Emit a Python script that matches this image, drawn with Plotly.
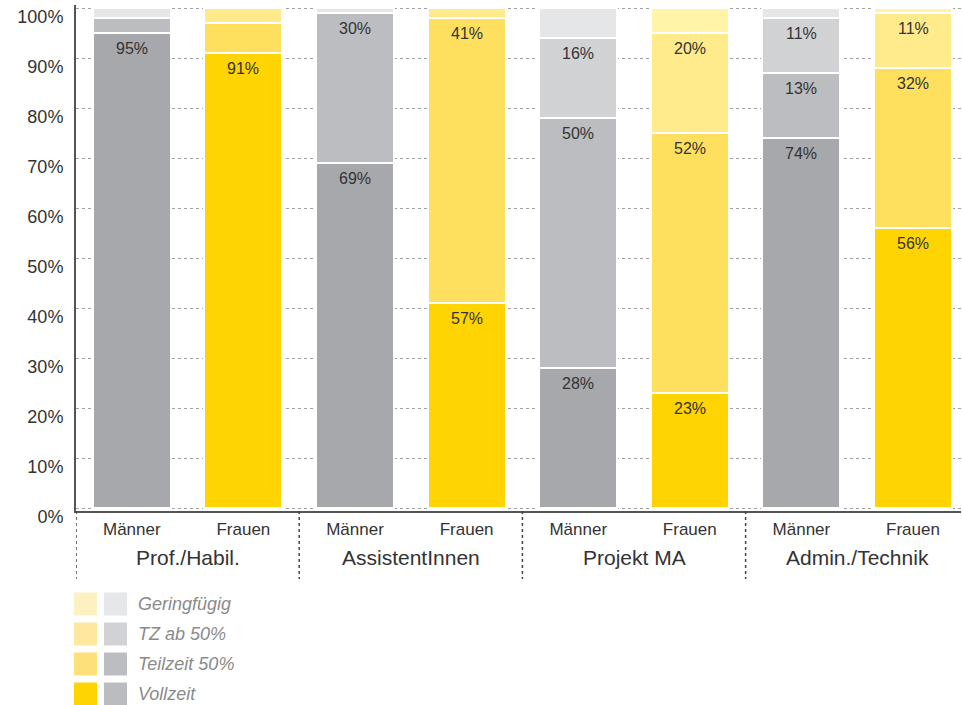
import plotly.graph_objects as go

# ---- data ----
groups = ["Prof./Habil.", "AssistentInnen", "Projekt MA", "Admin./Technik"]
sexes = ["Männer", "Frauen", "Männer", "Frauen", "Männer", "Frauen", "Männer", "Frauen"]

vollzeit = [95, 91, 69, 41, 28, 23, 74, 56]
teilzeit50 = [3, 6, 30, 57, 50, 52, 13, 32]
tz_ab50 = [0, 3, 0, 2, 16, 20, 11, 11]
geringfuegig = [2, 0, 1, 0, 6, 5, 2, 1]

vollzeit_labels = ["95%", "91%", "69%", "57%", "28%", "23%", "74%", "56%"]
teilzeit50_labels = ["", "", "30%", "41%", "50%", "52%", "13%", "32%"]
tz_ab50_labels = ["", "", "", "", "16%", "20%", "11%", "11%"]
geringfuegig_labels = [""] * 8

series_names = ["Vollzeit", "Teilzeit 50%", "TZ ab 50%", "Geringfügig"]
gray_cols = ["#a7a8ab", "#bcbdc0", "#d1d2d4", "#e5e6e8"]
yellow_cols = ["#ffd400", "#ffe05e", "#ffea8c", "#fff4a8"]
legend_gray = ["#bbbcbf", "#bcbdc1", "#d1d2d4", "#e6e7e9"]
legend_yellow = ["#ffd400", "#fee07a", "#fee8a0", "#fdf1c2"]

values = [vollzeit, teilzeit50, tz_ab50, geringfuegig]
labels = [vollzeit_labels, teilzeit50_labels, tz_ab50_labels, geringfuegig_labels]

FONT = "Liberation Sans"
x_idx = list(range(len(sexes)))

fig = go.Figure()
annotations = []
cum = [0] * len(sexes)
for k, name in enumerate(series_names):
    cols = [gray_cols[k] if s == "Männer" else yellow_cols[k] for s in sexes]
    fig.add_trace(go.Bar(
        x=x_idx, y=values[k], name=name,
        marker=dict(color=cols, line=dict(color="white", width=2)),
        width=0.7, showlegend=False, hoverinfo="skip",
    ))
    for i in x_idx:
        cum[i] += values[k][i]
        if labels[k][i]:
            annotations.append(dict(x=i, y=cum[i], xref="x", yref="y", yanchor="top",
                                    yshift=-5, text=labels[k][i], showarrow=False,
                                    font=dict(size=16, color="#333333", family=FONT)))

shapes = []
# dotted group separators
for gx in [-0.5, 1.5, 3.5, 5.5]:
    shapes.append(dict(type="line", xref="x", yref="paper", ysizemode="pixel", yanchor=0,
                       x0=gx, x1=gx, y0=0, y1=-68,
                       line=dict(color="#444444", width=1.5, dash="dot")))

for i, g in enumerate(groups):
    annotations.append(dict(x=2 * i + 0.5, y=0, xref="x", yref="paper", yshift=-46,
                            text=g, showarrow=False, yanchor="middle",
                            font=dict(size=21, color="#333333", family=FONT)))

# custom legend (top row = Geringfügig)
legend_order = [3, 2, 1, 0]
for r, k in enumerate(legend_order):
    yc = 93 + 30 * r
    shapes.append(dict(type="rect", xref="paper", yref="paper", xsizemode="pixel", ysizemode="pixel",
                       xanchor=0, yanchor=0, x0=-2, x1=21, y0=-(yc - 11.5), y1=-(yc + 11.5),
                       fillcolor=legend_yellow[k], line=dict(width=0)))
    shapes.append(dict(type="rect", xref="paper", yref="paper", xsizemode="pixel", ysizemode="pixel",
                       xanchor=0, yanchor=0, x0=28, x1=51, y0=-(yc - 11.5), y1=-(yc + 11.5),
                       fillcolor=legend_gray[k], line=dict(width=0)))
    annotations.append(dict(x=0, y=0, xref="paper", yref="paper", xshift=60, yshift=-yc,
                            xanchor="left", yanchor="middle", showarrow=False,
                            text="<i>" + series_names[k] + "</i>",
                            font=dict(size=18, color="#8a8a8a", family=FONT)))

fig.update_layout(
    width=962, height=705,
    margin=dict(l=76, r=1, t=5, b=194),
    barmode="stack",
    plot_bgcolor="white", paper_bgcolor="white",
    shapes=shapes, annotations=annotations,
    font=dict(family=FONT, color="#333333"),
)
fig.update_xaxes(
    range=[-0.5, 7.43], tickmode="array", tickvals=x_idx, ticktext=sexes,
    showgrid=False, showline=True, linecolor="#555555", linewidth=2,
    ticks="", tickfont=dict(size=17, color="#333333", family=FONT),
    ticklabelstandoff=2, zeroline=False,
)
fig.update_yaxes(
    range=[-0.6, 100.6], tickmode="array", tickvals=list(range(0, 101, 10)),
    ticktext=[f"{v}%" for v in range(0, 101, 10)],
    showgrid=True, gridcolor="#a0a0a0", griddash="dot", gridwidth=1.3,
    showline=True, linecolor="#555555", linewidth=2, zeroline=False,
    ticks="", tickfont=dict(size=18, color="#333333", family=FONT),
    ticklabelstandoff=7, ticklabelshift=9, ticklabeloverflow="allow",
)

fig.write_html("out.html", config={"displayModeBar": False},
               post_script="document.body.style.margin='0';document.body.style.overflow='hidden';")
